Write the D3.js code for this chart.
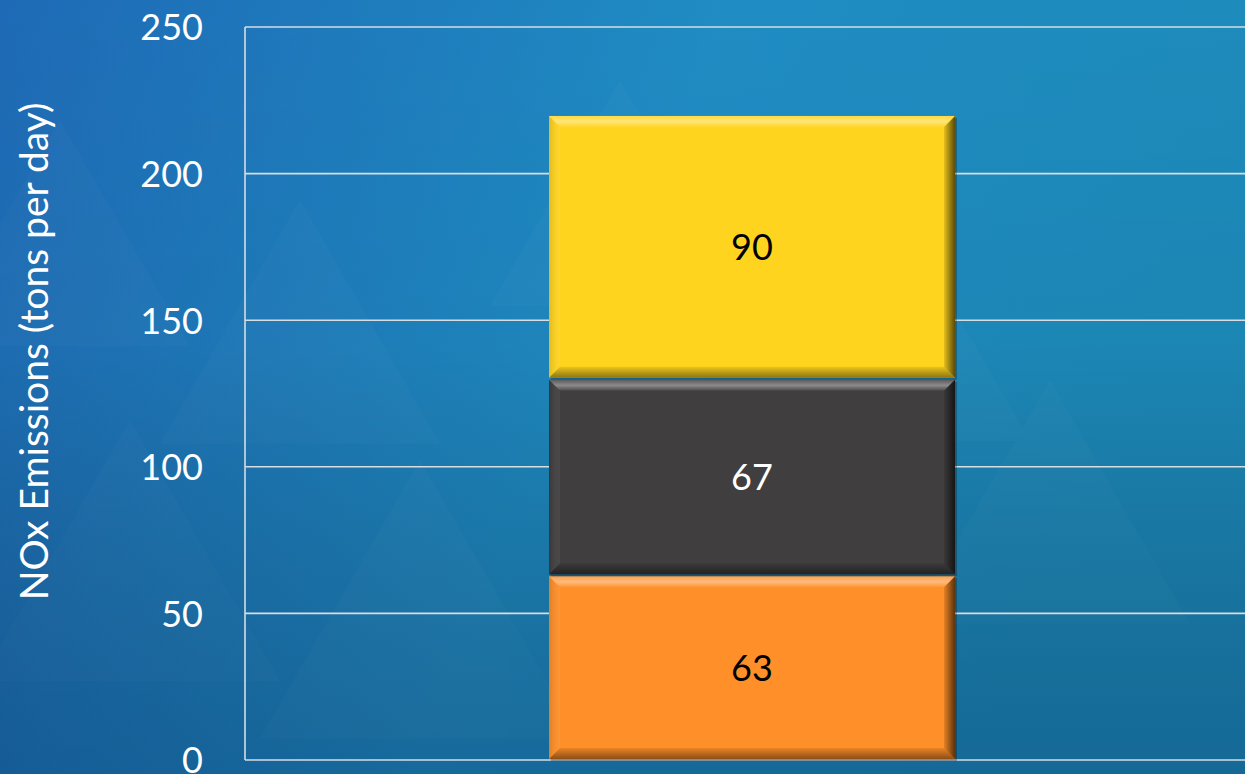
<!DOCTYPE html>
<html>
<head>
<meta charset="utf-8">
<script src="https://cdn.jsdelivr.net/npm/d3@7"></script>
<style>
  html, body { margin: 0; padding: 0; overflow: hidden; }
  svg { display: block; }
</style>
</head>
<body>
<svg id="chart" width="1245" height="774"></svg>
<script>
// ---- data ----
const categories = ["2020"];
const seriesNames = ["Segment A", "Segment B", "Segment C"];
const seriesValues = [63, 67, 90];
const seriesColors = ["#FF8F28", "#403E3F", "#FFD41E"];
const labelColors = ["#000000", "#FFFFFF", "#000000"];
const tickValues = [0, 50, 100, 150, 200, 250];
const yTitle = "NOx Emissions (tons per day)";

const W = 1245, H = 774;
const svg = d3.select("#chart");
const defs = svg.append("defs");

// background gradients
const bgH = defs.append("linearGradient").attr("id", "bgH").attr("x1", 0).attr("y1", 0).attr("x2", 1).attr("y2", 0.25);
bgH.append("stop").attr("offset", "0").attr("stop-color", "#1E6AB6");
bgH.append("stop").attr("offset", "0.55").attr("stop-color", "#1F8CC3");
bgH.append("stop").attr("offset", "1").attr("stop-color", "#1D8BBB");
const bgV = defs.append("linearGradient").attr("id", "bgV").attr("x1", 0).attr("y1", 0).attr("x2", 0).attr("y2", 1);
bgV.append("stop").attr("offset", "0").attr("stop-color", "#000").attr("stop-opacity", 0);
bgV.append("stop").attr("offset", "0.45").attr("stop-color", "#000").attr("stop-opacity", 0.04);
bgV.append("stop").attr("offset", "1").attr("stop-color", "#001a40").attr("stop-opacity", 0.3);

svg.append("rect").attr("width", W).attr("height", H).attr("fill", "url(#bgH)");
svg.append("rect").attr("width", W).attr("height", H).attr("fill", "url(#bgV)");

// faint triangle pattern
const tri = svg.append("g").attr("opacity", 0.014).attr("fill", "#ffffff");
[[60, 120, 260], [300, 200, 280], [130, 420, 300], [620, 80, 260], [880, 180, 300], [1050, 380, 280], [420, 460, 320]].forEach(([x, y, s]) => {
  tri.append("path").attr("d", `M${x},${y} L${x + s / 2},${y + s * 0.87} L${x - s / 2},${y + s * 0.87} Z`);
});

// scales
const plotLeft = 245, plotRight = 1259, plotTop = 27, plotBottom = 760;
const y = d3.scaleLinear().domain([0, 250]).range([plotBottom, plotTop]);
const x = d3.scaleBand().domain(categories).range([plotLeft, plotRight]).paddingInner(0).paddingOuter(0.7488);

// gridlines
const grid = svg.append("g");
grid.selectAll("line").data(tickValues).join("line")
  .attr("x1", plotLeft).attr("x2", W + 20)
  .attr("y1", d => y(d)).attr("y2", d => y(d))
  .attr("stroke", "#D6DDE3").attr("stroke-width", 1.6);
// vertical axis line
svg.append("line").attr("x1", plotLeft).attr("x2", plotLeft)
  .attr("y1", y(250)).attr("y2", y(0))
  .attr("stroke", "#D6DDE3").attr("stroke-width", 1.6);

// tick labels via d3 axis
const yAxis = d3.axisLeft(y).tickValues(tickValues).tickSize(0).tickPadding(0);
const ax = svg.append("g").attr("transform", "translate(203,0)").call(yAxis);
ax.select(".domain").remove();
ax.selectAll("text")
  .attr("fill", "#FFFFFF")
  .attr("font-family", "Lato, 'Open Sans', sans-serif")
  .attr("font-size", 36)
  .attr("dy", "0.36em");

// y title
svg.append("text")
  .attr("transform", `translate(48,${(y(0) + y(250)) / 2 - 42}) rotate(-90)`)
  .attr("text-anchor", "middle")
  .attr("fill", "#FFFFFF")
  .attr("font-family", "Lato, 'Open Sans', sans-serif")
  .attr("font-size", 39)
  .text(yTitle);

// stacked data
let cum = 0;
const stacked = seriesValues.map((v, i) => {
  const d = { name: seriesNames[i], v, y0: cum, y1: cum + v, color: seriesColors[i], label: labelColors[i] };
  cum += v;
  return d;
});

// bevel gradients
function grad(id, x1, y1, x2, y2, stops) {
  const g = defs.append("linearGradient").attr("id", id)
    .attr("x1", x1).attr("y1", y1).attr("x2", x2).attr("y2", y2);
  stops.forEach(([o, c, op]) => g.append("stop").attr("offset", o).attr("stop-color", c).attr("stop-opacity", op));
}
grad("bvTop", 0, 0, 0, 1, [[0, "#fff", 0.15], [0.5, "#fff", 0.4], [1, "#fff", 0.05]]);
grad("bvBot", 0, 0, 0, 1, [[0, "#000", 0.08], [1, "#000", 0.45]]);
grad("bvRight", 0, 0, 1, 0, [[0, "#000", 0.1], [1, "#000", 0.65]]);
grad("bvLeft", 0, 0, 1, 0, [[0, "#000", 0.12], [1, "#fff", 0.05]]);

const bx = x(categories[0]);
const bw = x.bandwidth();
const bevel = 11;
const bars = svg.append("g");
stacked.forEach(d => {
  const top = y(d.y1) + 1, bot = y(d.y0) - 1;
  const g = bars.append("g");
  g.append("rect").attr("x", bx + 2).attr("y", top + 2).attr("width", bw).attr("height", bot - top)
    .attr("fill", "#000").attr("opacity", 0.25);
  g.append("rect").attr("x", bx).attr("y", top).attr("width", bw).attr("height", bot - top)
    .attr("fill", d.color);
  const L = bx, R = bx + bw, T = top, B = bot, b = bevel;
  g.append("path").attr("d", `M${L},${T} L${R},${T} L${R - b},${T + b} L${L + b},${T + b} Z`).attr("fill", "url(#bvTop)");
  g.append("path").attr("d", `M${L},${B} L${R},${B} L${R - b},${B - b} L${L + b},${B - b} Z`).attr("fill", "url(#bvBot)");
  g.append("path").attr("d", `M${R},${T} L${R},${B} L${R - b},${B - b} L${R - b},${T + b} Z`).attr("fill", "url(#bvRight)");
  g.append("path").attr("d", `M${L},${T} L${L},${B} L${L + b},${B - b} L${L + b},${T + b} Z`).attr("fill", "url(#bvLeft)");
  g.append("text")
    .attr("x", bx + bw / 2).attr("y", y((d.y0 + d.y1) / 2))
    .attr("dy", "0.36em")
    .attr("text-anchor", "middle")
    .attr("fill", d.label)
    .attr("font-family", "Lato, 'Open Sans', sans-serif")
    .attr("font-size", 36)
    .text(d.v);
});
</script>
</body>
</html>
